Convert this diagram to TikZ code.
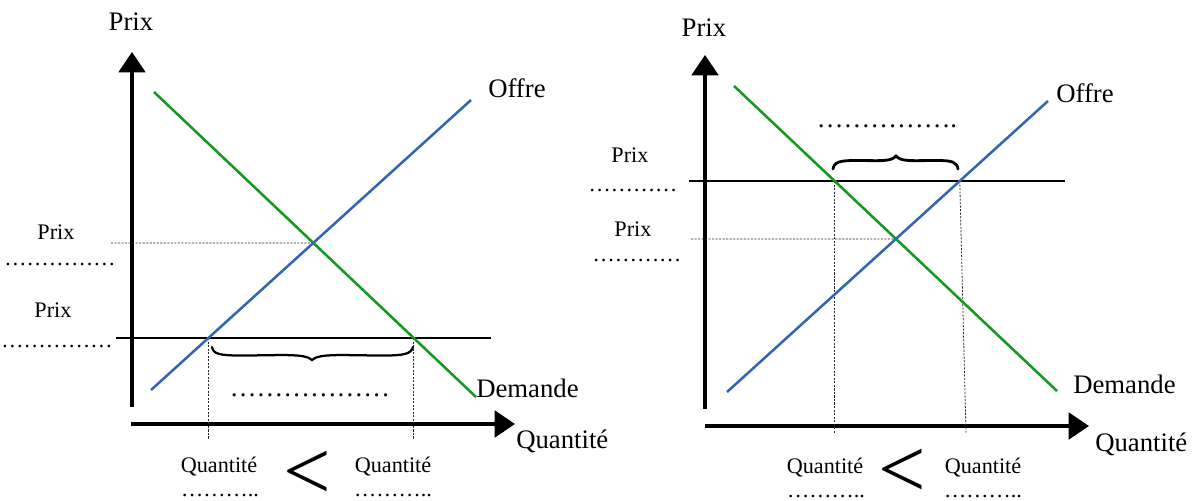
\documentclass[tikz,border=0pt]{standalone}
\usepackage{fontspec}
\setmainfont{Liberation Serif}
\usetikzlibrary{arrows.meta}
\definecolor{offreblue}{RGB}{52,101,178}
\definecolor{demandegreen}{RGB}{20,152,32}
\tikzset{
  axis/.style={line width=2.2pt,-{Triangle[width=19pt,length=14.5pt]}},
  offre/.style={offreblue,line width=1.8pt},
  demande/.style={demandegreen,line width=1.8pt},
  prixline/.style={line width=1pt},
  guide/.style={line width=0.55pt,dash pattern=on 1.5pt off 1pt,black!85},
  bracket/.style={line width=1.6pt,line cap=round},
  biglabel/.style={font=\fontsize{19}{22}\selectfont,inner sep=0pt},
  smalllabel/.style={font=\fontsize{15.8}{18}\selectfont,inner sep=0pt,text depth=0pt},
  lessthan/.style={font=\fontsize{60}{60}\selectfont,inner sep=0pt,text depth=0pt},
}

\begin{document}
\begin{tikzpicture}[x=0.025cm,y=-0.025cm]
    \useasboundingbox (0,0) rectangle (1194,500);

    % left diagram: price below equilibrium
    \coordinate (lD1) at (154,92);  \coordinate (lD2) at (476,397);
    \coordinate (lO1) at (151,390); \coordinate (lO2) at (471,100);
    \coordinate (lP1) at (116,338); \coordinate (lP2) at (491,338);
    \coordinate (lE) at (intersection of lD1--lD2 and lO1--lO2);
    \coordinate (lA) at (intersection of lP1--lP2 and lO1--lO2);
    \coordinate (lB) at (intersection of lP1--lP2 and lD1--lD2);
    \coordinate (lQ) at (0,439);
    \draw[axis] (132,407) -- (132,52);
    \draw[axis] (131,424) -- (515,424);
    \draw[guide] (111,243) -- (lE);
    \draw[guide] (lA) -- (lA |- lQ);
    \draw[guide] (lB) -- (lB |- lQ);
    \draw[prixline] (lP1) -- (lP2);
    \draw[demande] (lD1) -- (lD2);
    \draw[offre] (lO1) -- (lO2);
    \draw[bracket] (212,347) .. controls (213,354) and (220,355.5) .. (240,355.5)
        .. controls (280,355.5) and (305,353) .. (312,360)
        .. controls (319,353) and (344,355.5) .. (384,355.5)
        .. controls (404,355.5) and (411,354) .. (413,347);
    \node[biglabel,anchor=base] (lprix) at (131,30) {Prix};
    \node[biglabel,anchor=base west] (loffre) at (488,97) {Offre};
    \node[biglabel,anchor=base west] (ldemande) at (476,397) {Demande};
    \node[biglabel,anchor=base west] (lquant) at (516,448) {Quantité};
    \node[smalllabel,anchor=base] (lprixa) at (56,239) {Prix};
    \node[smalllabel,anchor=base] (lprixa dots) at (60,265) {……………};
    \node[smalllabel,anchor=base] (lprixb) at (53,317) {Prix};
    \node[smalllabel,anchor=base] (lprixb dots) at (57,347) {……………};
    \node[biglabel,anchor=base] (lgap) at (310,396) {………………};
    \node[smalllabel,anchor=base] (lqa) at (219,472) {Quantité};
    \node[smalllabel,anchor=base] (lqa dots) at (220,496) {………..};
    \node[lessthan,anchor=base] (lless) at (307,499) {<};
    \node[smalllabel,anchor=base] (lqb) at (393,472) {Quantité};
    \node[smalllabel,anchor=base] (lqb dots) at (393,496) {………..};

    % right diagram: price above equilibrium
    \coordinate (rD1) at (734,86);  \coordinate (rD2) at (1057,391);
    \coordinate (rO1) at (727,392); \coordinate (rO2) at (1048,101);
    \coordinate (rP1) at (689,181); \coordinate (rP2) at (1065,181);
    \coordinate (rE) at (intersection of rD1--rD2 and rO1--rO2);
    \coordinate (rA) at (intersection of rP1--rP2 and rD1--rD2);
    \coordinate (rB) at (intersection of rP1--rP2 and rO1--rO2);
    \coordinate (rQ) at (0,433);
    \coordinate (rQb) at (966,433);
    \draw[axis] (705,409) -- (705,55);
    \draw[axis] (705,426) -- (1089,426);
    \draw[guide] (691,239) -- (rE);
    \draw[guide] (rA) -- (rA |- rQ);
    \draw[guide] (rB) -- (rQb);
    \draw[prixline] (rP1) -- (rP2);
    \draw[demande] (rD1) -- (rD2);
    \draw[offre] (rO1) -- (rO2);
    \draw[bracket,line width=2pt] (833,169) .. controls (834,162) and (840,160.5) .. (855,160.5)
        .. controls (880,160.5) and (891,162) .. (896,156)
        .. controls (901,162) and (912,160.5) .. (937,160.5)
        .. controls (952,160.5) and (957,162) .. (958,169);
    \node[biglabel,anchor=base] (rprix) at (704,36) {Prix};
    \node[biglabel,anchor=base west] (roffre) at (1056,102) {Offre};
    \node[biglabel,anchor=base west] (rdemande) at (1073,393) {Demande};
    \node[biglabel,anchor=base west] (rquant) at (1095,451) {Quantité};
    \node[smalllabel,anchor=base] (rprixa) at (630,162) {Prix};
    \node[smalllabel,anchor=base] (rprixa dots) at (633,191) {…………};
    \node[smalllabel,anchor=base] (rprixb) at (633,236) {Prix};
    \node[smalllabel,anchor=base] (rprixb dots) at (637,261) {…………};
    \node[biglabel,anchor=base] (rgap) at (887,127) {…………….};
    \node[smalllabel,anchor=base] (rqa) at (825,473) {Quantité};
    \node[smalllabel,anchor=base] (rqa dots) at (826,497) {………..};
    \node[lessthan,anchor=base] (rless) at (902,497) {<};
    \node[smalllabel,anchor=base] (rqb) at (983,473) {Quantité};
    \node[smalllabel,anchor=base] (rqb dots) at (983,497) {………..};
\end{tikzpicture}
\end{document}
